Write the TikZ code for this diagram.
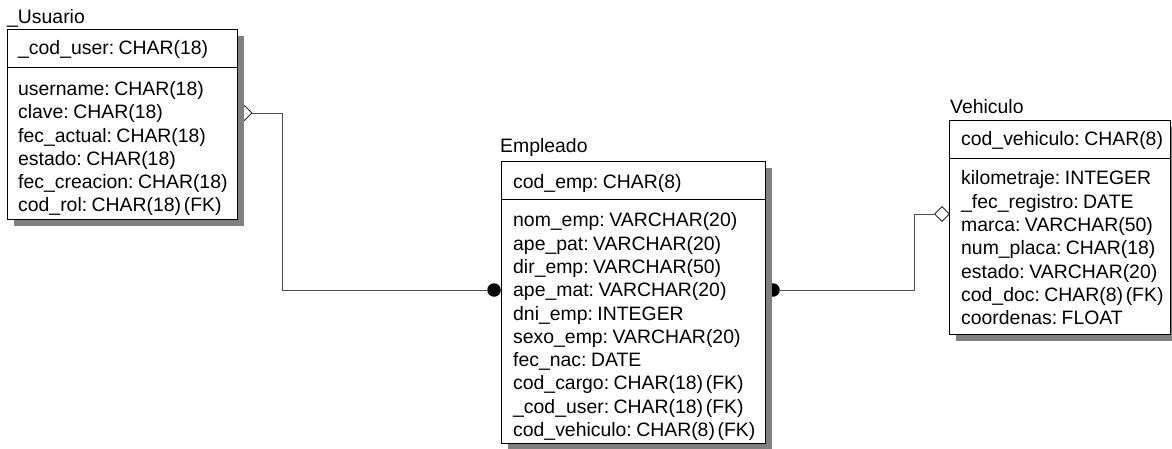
\documentclass[tikz,border=0pt]{standalone}
\usepackage{fontspec}
\setmainfont{Liberation Sans}[WordSpace=0.5]
\usetikzlibrary{shapes.geometric}
\tikzset{
  ent/.style={draw=black, line width=1.2pt, fill=white, inner sep=0pt, anchor=north west},
  shade/.style={fill=black!50},
  lbl/.style={anchor=base west, inner sep=0pt, font=\fontsize{19.4}{23}\selectfont},
  conn/.style={draw=black!70, line width=0.8pt},
  onemany/.style={diamond, draw=black, line width=0.8pt, fill=white, inner sep=0pt, minimum size=15pt},
  ball/.style={circle, fill=black, inner sep=0pt, minimum size=13.5pt},
}
\begin{document}
\begin{tikzpicture}[x=1pt,y=-1pt]
\useasboundingbox[fill=white] (0,0) rectangle (1172,449);
% relationship markers and connectors
\node[onemany] (d1) at (244.5,113) {};
\node[ball] (b1) at (494,290) {};
\coordinate (e1) at (282,113);
\draw[conn] (d1.east) -- (e1) |- (b1);
\node[ball] (b2) at (773,290) {};
\node[onemany] (d2) at (942,214) {};
\coordinate (e2) at (914,290);
\draw[conn] (b2) -- (e2) |- (d2.west);
% shadows
\fill[shade] (14,36) rectangle (244,226);
\fill[shade] (508,168) rectangle (772,450);
\fill[shade] (956,127) rectangle (1177,341);
% Usuario
\node[ent, minimum width=230pt, minimum height=38pt] (usrH) at (7,29) {};
\node[ent, minimum width=230pt, minimum height=152pt] (usrB) at (7,67) {};
\node[lbl] (usrT) at (7,23.7) {\_Usuario};
\node[lbl] (usrK) at (18,54.8) {\_cod\_user: CHAR(18)};
\foreach [count=\i from 0] \t in {username: CHAR(18), clave: CHAR(18), fec\_actual: CHAR(18), estado: CHAR(18), fec\_creacion: CHAR(18), cod\_rol: CHAR(18) (FK)}
  \node[lbl] (usr\i) at (18,{95.8+23.2*\i}) {\t};
% Empleado
\node[ent, minimum width=264pt, minimum height=38pt] (empH) at (501,161) {};
\node[ent, minimum width=264pt, minimum height=244pt] (empB) at (501,199) {};
\node[lbl] (empT) at (500,153) {Empleado};
\node[lbl] (empK) at (513,188.8) {cod\_emp: CHAR(8)};
\foreach [count=\i from 0] \t in {nom\_emp: VARCHAR(20), ape\_pat: VARCHAR(20), dir\_emp: VARCHAR(50), ape\_mat: VARCHAR(20), dni\_emp: INTEGER, sexo\_emp: VARCHAR(20), fec\_nac: DATE, cod\_cargo: CHAR(18) (FK), \_cod\_user: CHAR(18) (FK), cod\_vehiculo: CHAR(8) (FK)}
  \node[lbl] (emp\i) at (513,{226.8+23.3*\i}) {\t};
% Vehiculo
\node[ent, minimum width=221pt, minimum height=38pt] (vehH) at (949,120) {};
\node[ent, minimum width=221pt, minimum height=176pt] (vehB) at (949,158) {};
\node[lbl] (vehT) at (950,114) {Vehiculo};
\node[lbl] (vehK) at (961,145.8) {cod\_vehiculo: CHAR(8)};
\foreach [count=\i from 0] \t in {kilometraje: INTEGER, \_fec\_registro: DATE, marca: VARCHAR(50), num\_placa: CHAR(18), estado: VARCHAR(20), cod\_doc: CHAR(8) (FK), coordenas: FLOAT}
  \node[lbl] (veh\i) at (961,{184.8+23.3*\i}) {\t};
\end{tikzpicture}
\end{document}
